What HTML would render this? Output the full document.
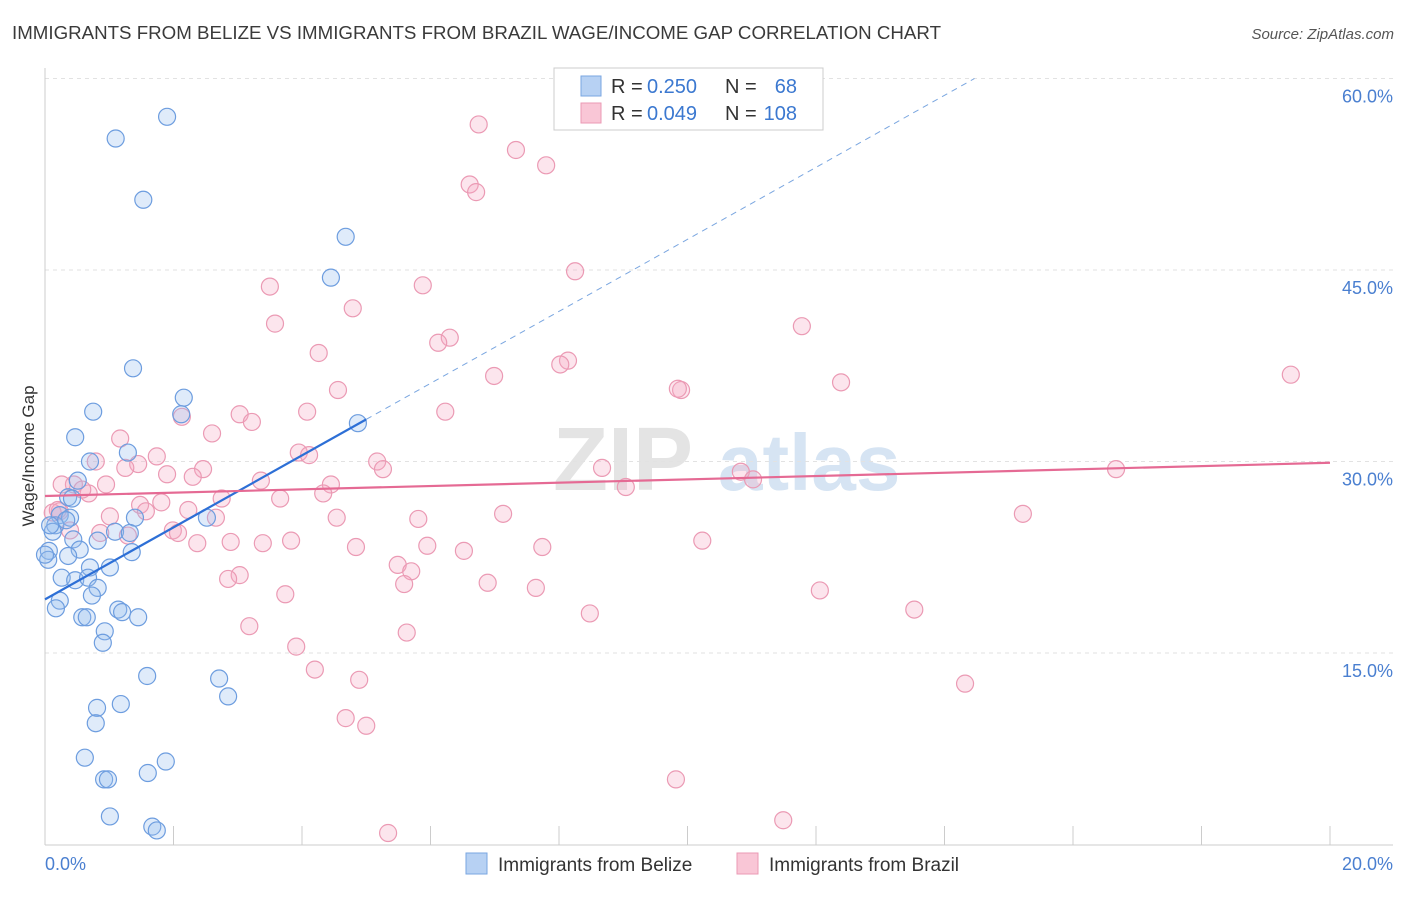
<!DOCTYPE html>
<html><head><meta charset="utf-8">
<style>
body{margin:0;background:#fff;font-family:"Liberation Sans",sans-serif;}
svg text{font-family:"Liberation Sans",sans-serif;}
</style></head>
<body>
<svg id="chart" width="1406" height="892" viewBox="0 0 1406 892" xmlns="http://www.w3.org/2000/svg">
<rect width="1406" height="892" fill="#fff"/>
<text x="12" y="39" font-size="18" fill="#3a3a3a" textLength="929" lengthAdjust="spacingAndGlyphs">IMMIGRANTS FROM BELIZE VS IMMIGRANTS FROM BRAZIL WAGE/INCOME GAP CORRELATION CHART</text>
<text x="1394" y="39" font-size="15" fill="#555" text-anchor="end" font-style="italic">Source: ZipAtlas.com</text>
<g>
<text x="553" y="490" font-size="90" fill="#e4e4e4" font-family="Liberation Serif, serif" font-weight="bold">ZIP</text>
<text x="718" y="490" font-size="80" fill="#d6e4f3" font-weight="bold">atlas</text>
</g>
<g id="grid"></g>
<g id="axes"></g>
<g id="marks"></g>
<text transform="translate(34,456) rotate(-90)" font-size="17" fill="#333" text-anchor="middle">Wage/Income Gap</text>
<g>
<rect x="554" y="68" width="269" height="62" fill="#fff" stroke="#ccc"/>
<rect x="581" y="76" width="20" height="20" fill="#b7d1f3" stroke="#7aa6e0"/>
<rect x="581" y="103" width="20" height="20" fill="#f9c6d6" stroke="#eb9ab4"/>
<text x="611" y="93" font-size="20" fill="#333">R =</text>
<text x="647" y="93" font-size="20" fill="#3b78d0">0.250</text>
<text x="725" y="93" font-size="20" fill="#333">N =</text>
<text x="797" y="93" font-size="20" fill="#3b78d0" text-anchor="end">68</text>
<text x="611" y="120" font-size="20" fill="#333">R =</text>
<text x="647" y="120" font-size="20" fill="#3b78d0">0.049</text>
<text x="725" y="120" font-size="20" fill="#333">N =</text>
<text x="797" y="120" font-size="20" fill="#3b78d0" text-anchor="end">108</text>
</g>
<g>
<rect x="466" y="853" width="21" height="21" fill="#b7d1f3" stroke="#7aa6e0"/>
<text x="498" y="871" font-size="19" fill="#333">Immigrants from Belize</text>
<rect x="737" y="853" width="21" height="21" fill="#f9c6d6" stroke="#eb9ab4"/>
<text x="769" y="871" font-size="19" fill="#333">Immigrants from Brazil</text>
</g>
</svg>
<script>
const yTicks=[15,30,45,60];
const yTickLabels=["15.0%","30.0%","45.0%","60.0%"];
const xTickVals=[0,2,4,6,8,10,12,14,16,18,20];
const xEndLabels=["0.0%","20.0%"];
const belizeX=[1.10,1.90,1.53,4.68,4.45,1.37,2.16,0.75,2.12,0.47,1.29,4.87,0.70,0.36,0.51,0.23,0.39,0.16,0.12,1.40,1.09,2.52,1.32,0.82,0.44,0.54,0.06,0.05,1.35,0.36,1.01,0.70,0.26,0.47,0.67,0.82,0.73,0.23,0.17,1.14,1.20,0.58,0.65,1.45,0.93,0.90,1.59,2.71,2.85,1.18,0.81,0.79,0.62,1.88,1.60,0.92,0.98,1.01,1.67,1.74,0.00,0.08,0.33,0.42];
const belizeY=[55.3,57.0,50.5,47.6,44.4,37.3,35.0,33.9,33.7,31.9,30.7,33.0,30.0,27.2,28.5,25.8,25.6,25.0,24.5,25.6,24.5,25.6,24.4,23.8,23.9,23.1,23.0,22.3,22.9,22.6,21.7,21.7,20.9,20.7,20.9,20.1,19.5,19.1,18.5,18.4,18.2,17.8,17.8,17.8,16.7,15.8,13.2,13.0,11.6,11.0,10.7,9.5,6.8,6.5,5.6,5.1,5.1,2.2,1.4,1.1,22.7,25.0,25.4,27.1];
const brazilX=[6.75,7.33,7.80,6.61,6.71,8.25,5.88,3.50,4.79,3.58,11.78,6.30,6.12,4.26,8.14,8.02,19.39,6.99,12.39,4.56,9.90,9.85,2.13,4.08,6.23,3.03,3.22,2.60,1.17,1.74,0.79,1.45,3.95,4.11,5.17,5.26,8.67,1.25,2.46,0.45,0.68,3.36,2.30,4.45,0.95,1.90,10.83,11.02,16.67,9.04,4.33,3.66,2.75,1.81,1.48,1.57,2.23,1.01,2.66,15.22,7.13,4.54,5.81,0.23,0.12,1.99,2.07,1.29,0.86,10.23,3.83,3.39,2.89,2.37,4.84,5.95,7.74,6.52,5.49,5.70,3.03,2.85,5.59,6.89,7.64,12.06,3.74,13.53,8.48,3.18,5.63,3.91,4.20,4.89,14.32,4.68,5.00,9.82,11.49,5.34,0.20,0.26,0.58,0.39];
const brazilY=[56.4,54.4,53.2,51.7,51.1,44.9,43.8,43.7,42.0,40.8,40.6,39.7,39.3,38.5,37.9,37.6,36.8,36.7,36.2,35.6,35.6,35.7,33.5,33.9,33.9,33.7,33.1,32.2,31.8,30.4,30.0,29.8,30.7,30.5,30.0,29.4,29.5,29.5,29.4,28.2,27.5,28.5,28.8,28.2,28.2,29.0,29.2,28.6,29.4,28.0,27.5,27.1,27.1,26.8,26.6,26.1,26.2,25.7,25.6,25.9,25.9,25.6,25.5,26.1,26.0,24.6,24.4,24.2,24.4,23.8,23.8,23.6,23.7,23.6,23.3,23.4,23.3,23.0,21.9,21.4,21.1,20.8,20.4,20.5,20.1,19.9,19.6,18.4,18.1,17.1,16.6,15.5,13.7,12.9,12.6,9.9,9.3,5.1,1.9,0.9,26.2,28.2,27.8,24.6];
const belizeTrend=[19.2,33.3];   // y at x=0 and x=5
const belizeTrendEndX=5.0;
const brazilTrend=[27.3,29.9];   // y at x=0 and x=20

const X0=45,X1=1330,Y0=844.5,YSCALE=191.5/15;
function xs(v){return X0+(X1-X0)*v/20;}
function ys(v){return Y0-v*YSCALE;}
const NS="http://www.w3.org/2000/svg";
function mk(tag,attrs,parent){const e=document.createElementNS(NS,tag);for(const k in attrs)e.setAttribute(k,attrs[k]);parent.appendChild(e);return e;}
const grid=document.getElementById('grid'),axes=document.getElementById('axes'),marks=document.getElementById('marks');
yTicks.forEach((t,i)=>{
  const g=mk('line',{x1:45,x2:1393,y1:ys(t),y2:ys(t),stroke:'#e2e2e2','stroke-dasharray':'4,4'},grid);
  
  
  const tx=mk('text',{x:1393,y:ys(t)+24,'font-size':18,fill:'#4a7fd0','text-anchor':'end'},axes);
  tx.textContent=yTickLabels[i];
  
  
});
let a=mk('line',{x1:45,x2:45,y1:68,y2:845,stroke:'#ccc'},axes);


a=mk('line',{x1:45,x2:1393,y1:845,y2:845,stroke:'#ccc'},axes);


xTickVals.forEach(v=>{
  const t=mk('line',{x1:xs(v),x2:xs(v),y1:826,y2:845,stroke:'#ccc'},axes);
  
  
});
let l=mk('text',{x:45,y:870,'font-size':18,fill:'#4a7fd0'},axes);l.textContent=xEndLabels[0];


l=mk('text',{x:1393,y:870,'font-size':18,fill:'#4a7fd0','text-anchor':'end'},axes);l.textContent=xEndLabels[1];



brazilX.forEach((x,i)=>{
  const c=mk('circle',{cx:xs(x),cy:ys(brazilY[i]),r:8.5,fill:'rgba(246,170,196,0.3)',stroke:'#eb9ab4','stroke-width':1.2},marks);
  
  
});
belizeX.forEach((x,i)=>{
  const c=mk('circle',{cx:xs(x),cy:ys(belizeY[i]),r:8.5,fill:'rgba(150,190,240,0.3)',stroke:'#6d9ddf','stroke-width':1.2},marks);
  
  
});
const slope=(belizeTrend[1]-belizeTrend[0])/belizeTrendEndX;
const xEnd60=(60-belizeTrend[0])/slope;
let tl=mk('line',{x1:xs(belizeTrendEndX),y1:ys(belizeTrend[1]),x2:xs(xEnd60),y2:ys(60),stroke:'#7aa6e0','stroke-width':1,'stroke-dasharray':'6,5'},marks);


tl=mk('line',{x1:xs(0),y1:ys(belizeTrend[0]),x2:xs(belizeTrendEndX),y2:ys(belizeTrend[1]),stroke:'#2d6fd6','stroke-width':2.2},marks);


tl=mk('line',{x1:xs(0),y1:ys(brazilTrend[0]),x2:xs(20),y2:ys(brazilTrend[1]),stroke:'#e56a94','stroke-width':2.2},marks);


</script>
</body></html>
